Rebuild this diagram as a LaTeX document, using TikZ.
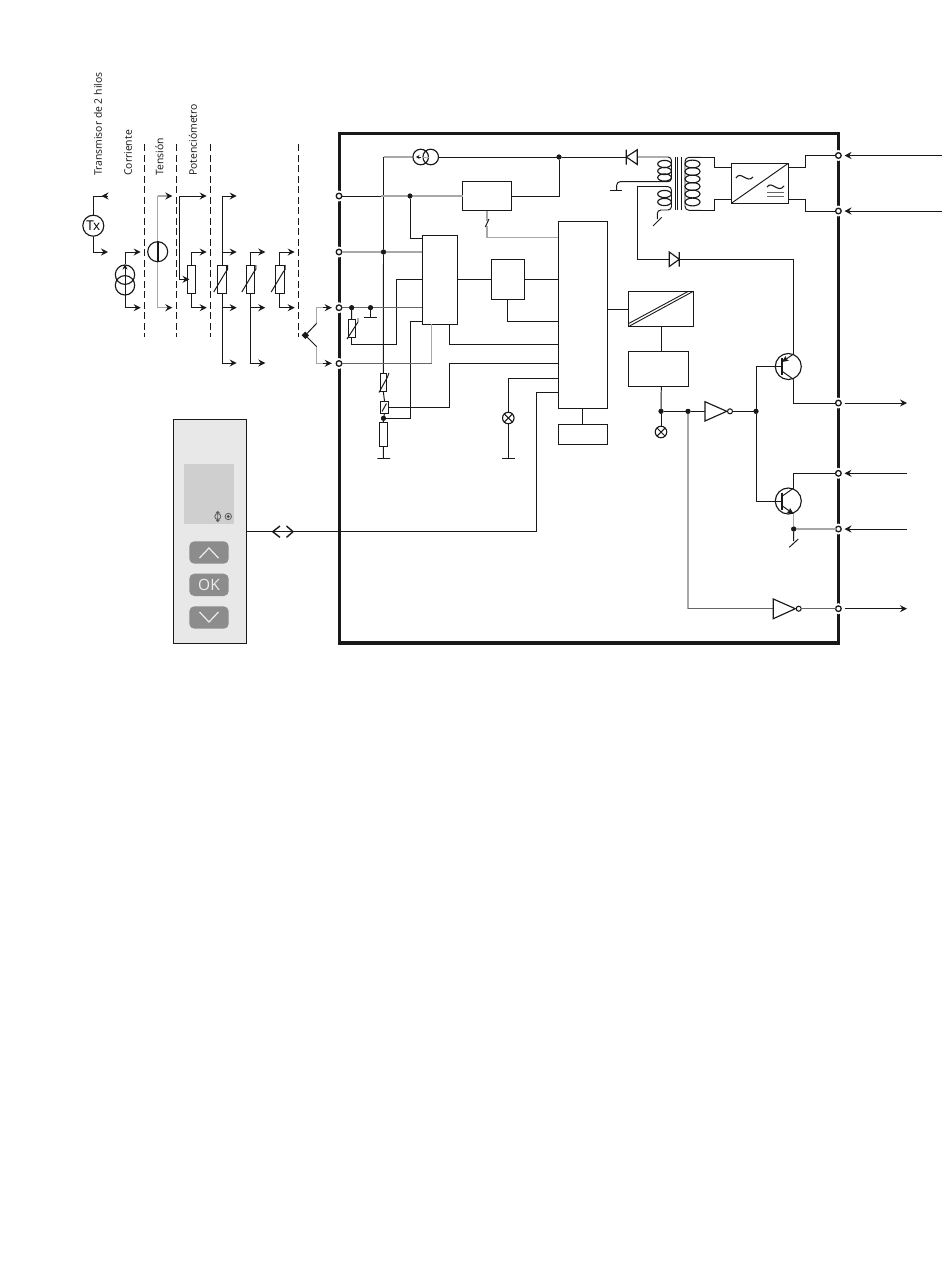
\documentclass[tikz,border=0pt]{standalone}
\usepackage{fontspec}
\setmainfont{Open Sans}
\usetikzlibrary{arrows.meta,calc,shapes.geometric}
\definecolor{ink}{gray}{0.1}
\definecolor{gw}{gray}{0.66}
\definecolor{gd}{gray}{0.4}
\tikzset{
 wire/.style={draw=ink,line width=0.98pt,line join=miter},
 greywire/.style={draw=gw,line width=1.4pt},
 midwire/.style={draw=gd,line width=0.98pt},
 arr/.style={wire,-{Stealth[length=7pt,width=7pt,inset=2.4pt]}},
 garr/.style={midwire,-{Stealth[length=7pt,width=7pt,inset=2.4pt,color=ink]}},
 blk/.style={draw=ink,line width=0.98pt,fill=white,inner sep=0pt,outer sep=0pt},
 term/.style={circle,draw=ink,line width=1.3pt,fill=white,minimum size=5.6pt,inner sep=0pt,outer sep=0pt},
 dot/.style={circle,fill=ink,minimum size=5pt,inner sep=0pt,outer sep=0pt},
 halo/.style={circle,fill=white,minimum size=11pt,inner sep=0pt},
 lbl/.style={rotate=90,anchor=west,inner sep=0pt,text=black!92,font=\fontsize{10.4pt}{11pt}\selectfont},
 dsh/.style={draw=ink,line width=0.98pt,dash pattern=on 7pt off 3.5pt},
 btn/.style={fill=black!45,rounded corners=5pt,draw=none,inner sep=0pt},
 chev/.style={draw=black!7,line width=1.2pt},
 lamp/.style={circle,draw=ink,line width=1.15pt,fill=white,minimum size=11.5pt,inner sep=0pt,outer sep=0pt},
 sym/.style={draw=ink,line width=1.15pt},
 rim/.style={circle,draw=ink,line width=1.15pt,inner sep=0pt},
}
\newcommand{\Bx}[6][blk]{%
 \pgfmathsetmacro{\bxw}{#5-#3}\pgfmathsetmacro{\bxh}{#6-#4}%
 \pgfmathsetmacro{\bxc}{(#3+#5)/2}\pgfmathsetmacro{\bxd}{(#4+#6)/2}%
 \node[#1,minimum width=\bxw pt,minimum height=\bxh pt] (#2) at (\bxc,\bxd) {};}
\newcommand{\lampmark}[1]{%
 \node[lamp] (#1) at (#1pos) {};
 \draw[draw=ink,line width=1.05pt] (#1.north west)--(#1.south east) (#1.north east)--(#1.south west);}
\begin{document}
\begin{tikzpicture}[x=1pt,y=-1pt]
\useasboundingbox (0,0) rectangle (950,1288);

% ---- labels
\node[lbl] (l1) at (98,176) {Transmisor de 2 hilos};
\node[lbl] (l2) at (128,176) {Corriente};
\node[lbl] (l3) at (159.5,176) {Tensión};
\node[lbl] (l4) at (193,176) {Potenciómetro};

% ---- dashed separators
\foreach \n/\x in {a/144,b/176.7,c/210.3,d/298.7}{
 \coordinate (ds\n) at (\x,144.3); \coordinate (de\n) at (\x,337.3);
 \draw[dsh] (ds\n)--(de\n);}

% ---- Tx
\coordinate (txa) at (108,196); \coordinate (txb) at (108,252);
\node[rim,minimum size=21pt] (tx) at (93.3,225.7) {\fontsize{13.5pt}{13.5pt}\selectfont T\kern-.7pt x};
\draw[wire] (tx.north) |- (txa);
\draw[wire,-{Stealth[length=7pt,width=7pt,inset=2.4pt]}] (txa)--(101.5,196);
\draw[arr] (tx.south) |- (txb);

% ---- current source
\node[rim,minimum size=19.4pt] (cs1) at (125,274.7) {};
\node[rim,minimum size=19.4pt] (cs2) at (125,285.3) {};
\coordinate (csa) at (140.7,252); \coordinate (csb) at (140.7,307.7);
\draw[arr] (cs1.north) |- (csa);
\draw[arr] (cs2.south) |- (csb);
\draw[wire,-{Stealth[length=5pt,width=5pt,inset=1.5pt]}] (cs2.south)--(cs1.north);

% ---- voltage source
\coordinate (va) at (172.3,196); \coordinate (vb) at (172.3,307.7);
\coordinate (vt) at (157.7,196); \coordinate (vu) at (157.7,307.7);
\draw[garr,draw=gw,line width=1.3pt] (vt)--(va);
\draw[garr,draw=gw,line width=1.3pt] (vu)--(vb);
\draw[greywire,line width=1.3pt] (vt)--(vu);
\node[rim,minimum size=20pt,fill=white] (vs) at (157.7,251.7) {};
\draw[draw=ink,line width=1.8pt] (vs.north)--(vs.south);

% ---- potentiometer
\Bx{pot}{187.3}{265.3}{195.7}{293.3}
\coordinate (pa) at (206.7,252); \coordinate (pb) at (206.7,307.7);
\coordinate (pw) at (206.7,196); \coordinate (pk) at (179.3,196); \coordinate (pl) at (179.3,279.3); \coordinate (pm) at (189.5,279.3);
\draw[arr] (pot.north) |- (pa);
\draw[arr] (pot.south) |- (pb);
\draw[arr] (pk) -- (pw);
\draw[arr] (pk) -- (pl) -- (pm);

% ---- RTDs
\foreach \n/\xa/\xb in {r1/217.7/226.7, r2/246/254.6, r3/275.4/284}{
 \Bx{\n}{\xa}{265.3}{\xb}{293.3}
}
\coordinate (r1a) at (236.7,196); \coordinate (r1b) at (236.7,252); \coordinate (r1c) at (236.7,307.7); \coordinate (r1d) at (236.7,363);
\coordinate (r2b) at (265.3,252); \coordinate (r2c) at (265.3,307.7); \coordinate (r2d) at (265.3,363);
\coordinate (r3b) at (294.7,252); \coordinate (r3c) at (294.7,307.7);
\draw[arr] (r1.north) |- (r1a);
\draw[arr] (r1.north |- r1b) -- (r1b);
\draw[arr] (r1.south |- r1c) -- (r1c);
\draw[arr] (r1.south) |- (r1d);
\draw[arr] (r2.north) |- (r2b);
\draw[arr] (r2.south |- r2c) -- (r2c);
\draw[arr] (r2.south) |- (r2d);
\draw[arr] (r3.north) |- (r3b);
\draw[arr] (r3.south) |- (r3c);
\foreach \c in {222.2,250.3,279.7}{
 \draw[wire] (\c-8.5,292)--(\c+3.5,272)--(\c+5.5,269.5)--(\c+5.5,265);
}

% ---- thermocouple
\node[diamond,fill=ink,minimum size=7.5pt,inner sep=0pt] (tc) at (305.3,335.3) {};
\coordinate (tca) at (316.7,323.3); \coordinate (tcb) at (316.7,346.7);
\coordinate (tcc) at (331.7,307.7); \coordinate (tcd) at (331.7,363.3);
\draw[wire] (tc.center)--(tca);
\draw[wire] (tc.center)--(tcb);
\draw[midwire,draw=gw] (tca) |- (tcc);
\draw[midwire,draw=gw] (tcb) |- (tcd);
\draw[arr] (323,307.7)--(tcc);
\draw[arr] (323,363.3)--(tcd);

% ---- frame
\coordinate (f1) at (339.3,133.3); \coordinate (f2) at (838.4,643);
\draw[draw=ink,line width=3.2pt,line join=miter] (f1) rectangle (f2);
\foreach \n/\y in {1/196,2/252,3/307.7,4/363.5}{\node[halo] (hl\n) at (339,\y) {};}
\foreach \n/\y in {1/155.5,2/211,3/403,4/473.3,5/529,6/608.7}{\node[halo] (hr\n) at (838.4,\y) {};}

% ---- blocks
\Bx{bf}{462.5}{181.5}{511.5}{210.5}
\Bx{bb}{422.3}{235.3}{457.3}{324.3}
\Bx{bc}{491.3}{259.3}{524.3}{299.3}
\Bx{bd}{558.3}{221.3}{607.3}{408.3}
\Bx{be}{558.3}{424.3}{607.3}{444.3}
\Bx{bg}{628.3}{291.3}{693.3}{326.7}
\Bx{bh}{628.3}{351.3}{688.7}{386.3}
\Bx{bi}{731.3}{163.3}{788.3}{203.3}

% ---- terminals
\foreach \n/\y in {1/196,2/252,3/307.7,4/363.5}{\node[term] (tl\n) at (339,\y) {};}
\foreach \n/\y in {1/155.5,2/211,3/403,4/473.3,5/529,6/608.7}{\node[term] (tr\n) at (838.4,\y) {};}

% ---- top current source
\node[rim,minimum size=15.6pt] (ca) at (420.7,157) {};
\node[rim,minimum size=15.6pt] (cb) at (430.7,157) {};

% ---- junctions
\node[dot] (j1) at (410,196) {};
\node[dot] (j2) at (383.5,252) {};
\node[dot] (j3) at (351.7,307.7) {};
\node[dot] (j4) at (370.5,307.7) {};
\node[dot] (j5) at (383.5,418.3) {};
\node[dot] (j6) at (559,157) {};
\node[dot] (j7) at (661,411.3) {};
\node[dot] (j8) at (688,411.3) {};
\node[dot] (j9) at (756,411.3) {};
\node[dot] (j10) at (793.7,529) {};

% ---- resistors on measuring line
\Bx{ra}{380}{373.3}{386.7}{391.7}
\Bx{rb}{380.3}{401.3}{388.7}{413.3}
\Bx{rc}{379.3}{422.3}{387.3}{446.7}
\Bx{rd}{348}{319}{355}{337.3}

% ---- input side wiring
\coordinate (cl) at (383.5,157);
\coordinate (xg) at (381,196);
\draw[greywire] (cl)--(ca.west);
\draw[wire] (cb.east)--(j6);
\draw[gw,line width=1pt] (ca.east)--(cb.west);
\draw[wire,line width=.9pt,-{Stealth[length=3.5pt,width=4pt]}] (ca.center)--(416,157);
\draw[wire] (cl)--(j2)--(ra.north);
\draw[wire] (ra.south)--(rb.north);
\draw[wire] (rb.south)--(j5)--(rc.north);
\coordinate (gA) at (383.5,458.5);
\draw[wire] (rc.south)--(gA) (377.3,458.5)--(390,458.5);
\draw[wire] (tl1)--(xg);
\draw[greywire] (xg)--(j1);
\draw[greywire] (j1)--(bf.west);
\coordinate (bb1) at (422.3,238.3);
\draw[wire] (j1) |- (bb1);
\coordinate (bf1) at (559,196);
\draw[wire] (bf.east)--(bf1)--(j6);
\coordinate (bb2) at (422.3,252);
\draw[greywire] (tl2)--(bb2);
\coordinate (bb3) at (422.3,279.3); \coordinate (w3a) at (396.7,344.3);
\draw[wire] (bb3) -| (w3a) -| (rd.south);
\draw[wire] (rd.north)--(j3);
\coordinate (bb4) at (422.3,307.7);
\draw[greywire] (j4)--(bb4);
\draw[wire,draw=gd] (tl3)--(j3)--(j4)--(bb4);
\coordinate (g3) at (370.5,317.5);
\draw[wire] (j4)--(g3) (364,317.5)--(376.7,317.5);
\coordinate (bb5) at (422.3,321.3); \coordinate (w5a) at (410.7,418.3);
\draw[wire] (bb5) -| (w5a) -- (j5);
\coordinate (bb6) at (431.7,324.3); \coordinate (w6a) at (431.7,363.5);
\draw[greywire] (bb6)--(w6a);
\draw[midwire] (tl4)--(w6a);
\coordinate (bb7) at (449.3,324.3); \coordinate (bd1) at (558.3,344.3);
\draw[wire] (bb7) |- (bd1);
\coordinate (bd2) at (558.3,363.3); \coordinate (w8a) at (449.3,407.3);
\draw[wire] (bd2) -| (w8a) -- (rb.east |- w8a);
\draw[wire] (bb.east |- bc.west)--(bc.west);
\draw[wire] (bc.east)--(bd.west |- bc.east);
\coordinate (bd3) at (558.3,321.3);
\draw[wire] (bc.south) |- (bd3);
% variable-resistor slashes
\draw[wire] (347,339)--(358,322)--(358,318);
\draw[wire] (379,392.5)--(387.5,377)--(389,373);
\draw[wire] (382,411.5)--(386.5,403.5);
% switch to MCU
\coordinate (sw0) at (487,210.5); \coordinate (sw1) at (487,220.5); \coordinate (sw2) at (487,226); \coordinate (sw3) at (487,237.7); \coordinate (bd4) at (558.3,237.7);
\draw[greywire] (sw0)--(sw1);
\draw[wire] (485.3,227)--(489,219);
\draw[greywire] (sw2)--(sw3)--(bd4);
% lamp
\coordinate (lzpos) at (508.3,418);
\lampmark{lz}
\coordinate (bd5) at (558.3,378.3); \coordinate (g5) at (508.3,458.5);
\draw[wire] (bd5) -| (lz.north);
\draw[wire] (lz.south)--(g5) (502,458.5)--(514.7,458.5);
\draw[wire] (bd.south -| be.north)--(be.north);
% HMI link
\coordinate (bd6) at (558.3,392.3); \coordinate (hm) at (536.7,531.7);
\Bx[draw=ink,line width=0.98pt,fill=black!9,inner sep=0pt,outer sep=0pt]{pan}{173.3}{419.3}{246.7}{643.3}
\draw[wire] (bd6) -| (hm) -- (pan.east |- hm);
\coordinate (aL) at (272.7,531.7); \coordinate (aR) at (293,531.7);
\draw[draw=ink,line width=1.4pt] (280,526)--(aL)--(280,537.4);
\draw[draw=ink,line width=1.4pt] (286.5,526)--(aR)--(286.5,537.4);

% ---- panel content
\Bx[fill=black!19,draw=none,inner sep=0pt,outer sep=0pt]{scr}{184}{464.3}{234}{524}
\Bx[btn]{bup}{189.3}{541.3}{228.7}{563.7}
\Bx[btn]{bok}{189.3}{573.7}{228.7}{596}
\Bx[btn]{bdn}{189.3}{606.3}{228.7}{628.7}
\draw[chev] (199.5,558)--(209,548)--(218.5,558);
\draw[chev] (199.5,612)--(209,622)--(218.5,612);
\node[text=black!7,inner sep=0pt,font=\fontsize{15.5pt}{16pt}\selectfont] (oktxt) at (209,585) {OK};
\node[circle,draw=black!65,line width=.8pt,minimum size=6pt,inner sep=0pt] (ic1) at (217.8,516.5) {};
\draw[black!65,line width=.8pt] (217.8,511.5)--(217.8,521.5) (216,513.2)--(217.8,511.5)--(219.6,513.2) (216,519.8)--(217.8,521.5)--(219.6,519.8);
\node[circle,draw=black!65,line width=.8pt,minimum size=6.4pt,inner sep=0pt] (ic2) at (228.3,516.5) {};
\node[circle,fill=black!70,minimum size=3.2pt,inner sep=0pt] (ic3) at (228.3,516.5) {};

% ---- MCU to outputs
\coordinate (bd7) at (607.3,309.3);
\draw[wire] (bd7)--(bg.west |- bd7);
\draw[draw=ink,line width=.9pt] (bg.south west)--(bg.north east);
\draw[draw=ink,line width=.9pt] ($(bg.south west)+(0,-3)$)--($(bg.north east)+(-5,0)$);
\coordinate (gb) at (661.3,326.7); \coordinate (hb) at (661.3,351.3); \coordinate (hc) at (661.3,386.3);
\draw[wire] (gb)--(hb);
\draw[wire] (hc)--(j7);
\coordinate (lypos) at (661,432);
\lampmark{ly}
\draw[wire] (j7)--(ly.north);

% ---- inverters
\coordinate (inva) at (705,411.3);
\draw[sym,fill=white] (705,401.7)--(726.7,411.3)--(705,421)--cycle;
\node[term,minimum size=5pt,line width=1.05pt] (bua) at (730,411.3) {};
\draw[wire] (j7)--(j8)--(inva);
\draw[wire] (bua)--(j9);
\coordinate (g8) at (688,608.7); \coordinate (invb) at (773.3,608.7);
\draw[greywire] (j8)--(g8);
\draw[midwire] (g8)--(invb);
\draw[sym,fill=white] (773.3,599)--(795.3,608.7)--(773.3,618.7)--cycle;
\node[term,minimum size=5pt,line width=1.05pt] (bub) at (798.7,608.7) {};
\draw[midwire] (bub)--(tr6);

% ---- transistors
\node[rim,minimum size=26pt] (qa) at (788.3,366.5) {};
\node[rim,minimum size=26pt] (qb) at (788.3,501) {};
\coordinate (qab) at (781.7,366.5); \coordinate (qbb) at (781.7,501);
\draw[draw=ink,line width=1.6pt] (781.7,358)--(781.7,375);
\draw[draw=ink,line width=1.6pt] (781.7,492.5)--(781.7,509.5);
\coordinate (qae) at (793.7,354); \coordinate (qac) at (793.7,379.5);
\coordinate (qbc) at (793.7,488); \coordinate (qbe) at (793.7,514);
\draw[wire,-{Stealth[length=6.5pt,width=5.5pt,inset=1pt]}] (qae)--(781.7,362);
\draw[wire] (781.7,371)--(qac);
\draw[wire] (781.7,496.5)--(qbc);
\draw[wire,-{Stealth[length=6.5pt,width=5.5pt,inset=1pt]}] (781.7,505.5)--(qbe);
\coordinate (w9a) at (756,366.5); \coordinate (w9b) at (756,501);
\draw[wire] (qab)--(w9a)--(j9)--(w9b)--(qbb);
\draw[wire] (qac) |- (tr3);
\draw[wire] (qbc) |- (tr4);
\draw[greywire] (qbe)--(j10);
\draw[greywire] (j10)--(tr5);
\draw[wire] (j10)--(793.7,541) (789.3,547.3)--(798.3,539);

% ---- rectifier diode
\coordinate (da) at (669.3,259.3); \coordinate (dm) at (679.3,259.3);
\draw[sym,fill=white] (669.3,252)--(679.3,259.3)--(669.3,266.5)--cycle (679.3,252)--(679.3,266.5);
\coordinate (w10) at (793.7,259.3); \coordinate (w11) at (637.3,186.7); \coordinate (w12) at (666,186.7);
\draw[wire] (qae)--(w10)--(dm);
\draw[wire] (da)-|(w11)--(w12);

% ---- transformer
\foreach \x in {675,677.8,681}{\draw[draw=ink,line width=0.98pt] (\x,157)--(\x,210);}
\foreach \y in {164,171,177.5,194,202}{\draw[draw=ink,line width=1.15pt] (664.5,\y) ellipse [x radius=6.8pt,y radius=3.6pt];}
\foreach \y in {164,171.5,179,186.5,194,202}{\draw[draw=ink,line width=1.15pt] (692.5,\y) ellipse [x radius=7.5pt,y radius=3.9pt];}
\draw[wire,rounded corners=4pt] (701,157.3)--(685,157.3)--(685,210.3)--(701,210.3);
\coordinate (tt) at (638,157);
\draw[wire,rounded corners=3.5pt] (tt)--(671.5,157)--(671.5,181.7)--(616.7,181.7)--(616.7,190);
\draw[wire] (609.5,190)--(622,190);
\draw[wire,rounded corners=3.5pt] (w12)--(671.5,186.7)--(671.5,210)--(657.3,210)--(657.3,219);
\draw[wire] (653,226)--(661.7,217.3);
\coordinate (dpa) at (626.3,157);
\draw[wire] (j6)--(dpa);
\draw[sym,fill=white] (637.3,149.7)--(626.3,157)--(637.3,164.5)--cycle (626.3,149.7)--(626.3,164.5);

% ---- power block
\draw[wire] (701,157.3)-|(714.7,167.3)--(bi.west |- 0,167.3);
\draw[wire] (701,210.3)-|(714.7,199.3)--(bi.west |- 0,199.3);
\draw[draw=ink,line width=.95pt] (bi.south west)--(bi.north east);
\draw[wire] (bi.east |- 0,167.3)-|(805.7,155.5)--(tr1);
\draw[wire] (bi.east |- 0,199.3)-|(805.7,211)--(tr2);
\draw[draw=ink,line width=1.1pt] (736,178) .. controls (741,170) and (747,184) .. (753,177);
\draw[draw=ink,line width=1.1pt] (767,187) .. controls (772,180) and (778,194) .. (784,186);
\draw[draw=gd,line width=1.2pt] (767,192.5)--(784,192.5) (767,196.5)--(784,196.5);

% ---- external arrows
\coordinate (ea) at (942,155.5); \coordinate (eb) at (942,211);
\coordinate (ec) at (907,403); \coordinate (ed) at (907,473.3);
\coordinate (ee) at (907,529); \coordinate (ef) at (907,608.7);
\coordinate (ia) at (844.5,155.5); \coordinate (ib) at (844.5,211);
\coordinate (ic) at (844.5,403); \coordinate (id) at (844.5,473.3);
\coordinate (ie) at (844.5,529); \coordinate (if) at (844.5,608.7);
\draw[arr] (ea)--(ia);
\draw[arr] (eb)--(ib);
\draw[arr] (ed)--(id);
\draw[arr] (ee)--(ie);
\draw[arr] (ic)--(ec);
\draw[arr] (if)--(ef);

% ---- junction dots on top of the wires
\foreach \j in {j1,j2,j3,j4,j5,j6,j7,j8,j9,j10}{\fill[ink] (\j) circle (2.5pt);}
\end{tikzpicture}
\end{document}
